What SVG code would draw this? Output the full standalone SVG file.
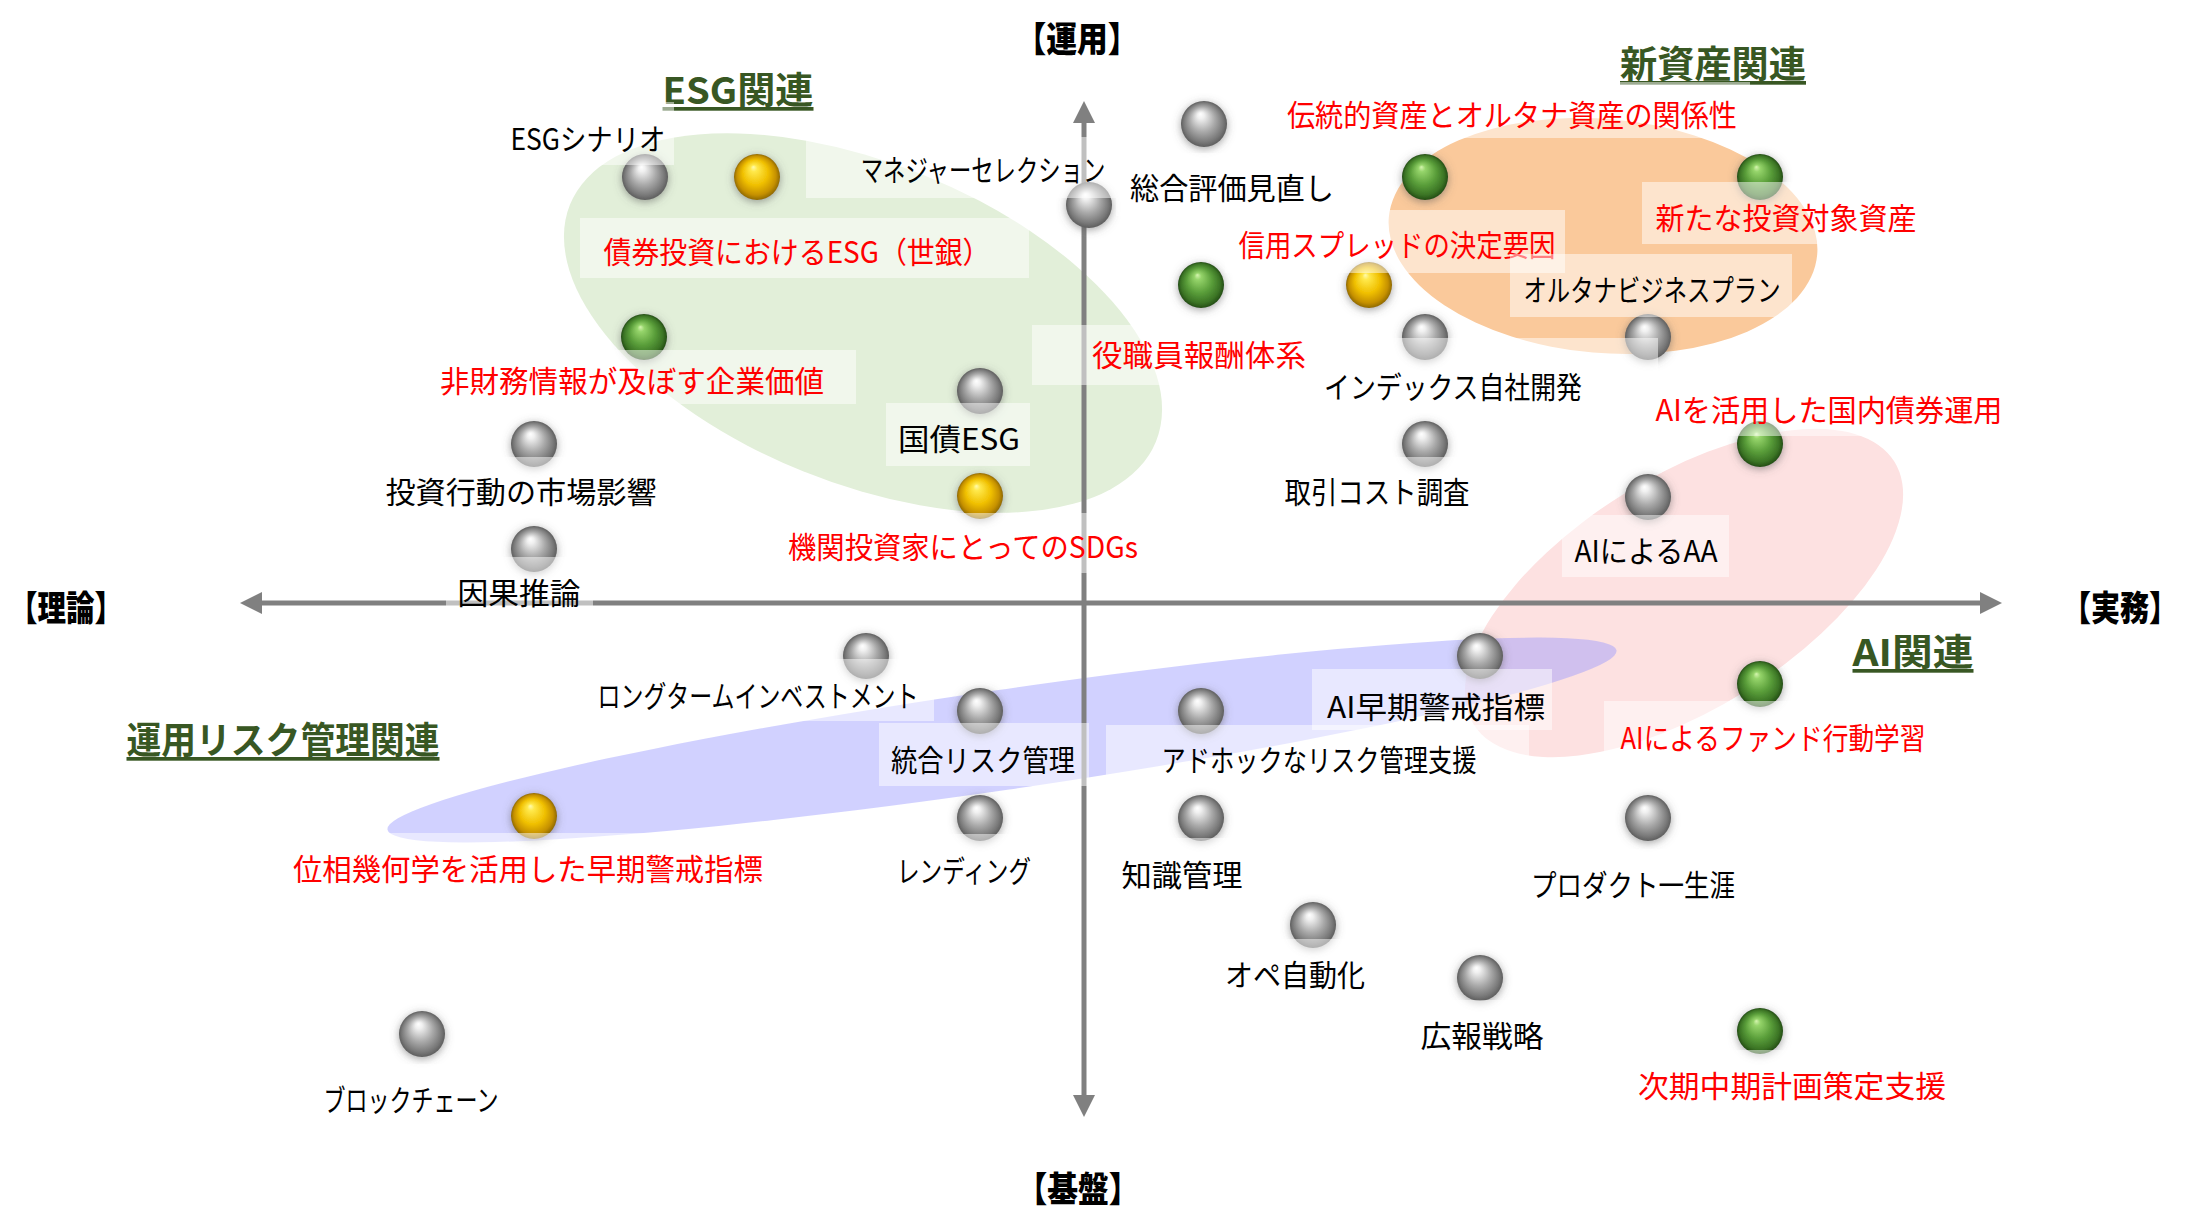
<svg xmlns="http://www.w3.org/2000/svg" xmlns:xlink="http://www.w3.org/1999/xlink" width="2190" height="1209" viewBox="0 0 2190 1209">
<defs>
<radialGradient id="gGray" cx="0.5" cy="0.5" r="0.5" fx="0.42" fy="0.28">
<stop offset="0" stop-color="#ffffff"/><stop offset="0.15" stop-color="#f0f0f0"/><stop offset="0.55" stop-color="#a9a9a9"/><stop offset="0.85" stop-color="#7a7a7a"/><stop offset="1" stop-color="#5e5e5e"/>
</radialGradient>
<radialGradient id="gYellow" cx="0.5" cy="0.5" r="0.5" fx="0.42" fy="0.28">
<stop offset="0" stop-color="#fffbb0"/><stop offset="0.15" stop-color="#ffe84a"/><stop offset="0.55" stop-color="#f0c000"/><stop offset="0.85" stop-color="#c59000"/><stop offset="1" stop-color="#8f6a00"/>
</radialGradient>
<radialGradient id="gGreen" cx="0.5" cy="0.5" r="0.5" fx="0.42" fy="0.28">
<stop offset="0" stop-color="#d6f5b0"/><stop offset="0.15" stop-color="#95d46a"/><stop offset="0.55" stop-color="#5a9e3a"/><stop offset="0.85" stop-color="#3b7425"/><stop offset="1" stop-color="#244d14"/>
</radialGradient>
<filter id="halo" x="-50%" y="-50%" width="200%" height="200%">
<feDropShadow dx="0" dy="2" stdDeviation="4" flood-color="#555555" flood-opacity="0.55"/>
</filter>
<marker id="arr" viewBox="0 0 22 22" refX="2" refY="11" markerWidth="22" markerHeight="22" markerUnits="userSpaceOnUse" orient="auto-start-reverse">
<path d="M0,0 L22,11 L0,22 z" fill="#808080"/>
</marker>
</defs>
<style>
.lbl{font-family:"Noto Sans CJK JP","Noto Sans",sans-serif;font-size:30px;text-anchor:middle;dominant-baseline:central}
.blk{fill:#000000}
.red{fill:#ff0000}
.box{fill:#ffffff;fill-opacity:0.5}
.sg{fill:url(#gGray);filter:url(#halo)}
.sy{fill:url(#gYellow);filter:url(#halo)}
.sn{fill:url(#gGreen);filter:url(#halo)}
.ttl{font-family:"Noto Sans CJK JP","Noto Sans",sans-serif;font-size:37px;font-weight:bold;fill:#385723;text-anchor:middle;dominant-baseline:central;text-decoration:underline}
.axl{font-family:"Noto Sans CJK JP","Noto Sans",sans-serif;font-size:35px;font-weight:900;fill:#000000;text-anchor:middle;dominant-baseline:central}
.axis{stroke:#808080;stroke-width:5;fill:none;marker-start:url(#arr);marker-end:url(#arr)}
</style>
<rect width="2190" height="1209" fill="#ffffff"/>

<g id="regions">
<ellipse cx="863" cy="323" rx="316" ry="160" transform="rotate(22 863 323)" fill="#e2efd9"/>
<ellipse cx="1603" cy="236" rx="215" ry="117" transform="rotate(5 1603 236)" fill="#fac99b"/>
<ellipse cx="1684" cy="593" rx="248" ry="116" transform="rotate(-32 1684 593)" fill="#fde1e1"/>
<ellipse cx="1002" cy="740" rx="621" ry="50" transform="rotate(-8.3 1002 740)" fill="#9999ff" fill-opacity="0.45"/>
</g>

<g id="connectors">
<line class="axis" x1="260" y1="603" x2="1982" y2="603"/>
<line class="axis" x1="1084" y1="1097" x2="1084" y2="121"/>
</g>

<g id="axis-labels">
<text class="axl" x="1077" y="36" textLength="123" lengthAdjust="spacingAndGlyphs">【運用】</text>
<text class="axl" x="1078" y="1186" textLength="123" lengthAdjust="spacingAndGlyphs">【基盤】</text>
<text class="axl" x="66" y="605" textLength="114" lengthAdjust="spacingAndGlyphs">【理論】</text>
<text class="axl" transform="translate(2120 606) scale(0.83 1)" x="0" y="0">【実務】</text>
</g>

<g id="group-titles">
<text class="ttl" x="738" y="88" textLength="151" lengthAdjust="spacingAndGlyphs">ESG関連</text>
<text class="ttl" x="1713" y="62" textLength="186" lengthAdjust="spacingAndGlyphs">新資産関連</text>
<text class="ttl" x="283" y="738" textLength="313" lengthAdjust="spacingAndGlyphs">運用リスク管理関連</text>
<text class="ttl" x="1913" y="650" textLength="121" lengthAdjust="spacingAndGlyphs">AI関連</text>
</g>

<g id="node-esg-scenario"><circle class="sg" cx="645" cy="177" r="23"/><rect class="box" x="496" y="102" width="178" height="63"/><text class="lbl blk" x="588" y="137" textLength="155" lengthAdjust="spacingAndGlyphs">ESGシナリオ</text></g>
<g id="node-bond-esg"><circle class="sy" cx="757" cy="177" r="23"/><rect class="box" x="580" y="218" width="449" height="60"/><text class="lbl red" x="797" y="250" textLength="387" lengthAdjust="spacingAndGlyphs">債券投資におけるESG（世銀）</text></g>
<g id="node-manager-selection"><circle class="sg" cx="1089" cy="205" r="23"/><rect class="box" x="806" y="137" width="310" height="61"/><text class="lbl blk" transform="translate(983 168) scale(0.745 1)" x="0" y="0">マネジャーセレクション</text></g>
<g id="node-overall-review"><circle class="sg" cx="1204" cy="124" r="23"/><rect class="box" x="1116" y="153" width="228" height="63"/><text class="lbl blk" x="1232" y="186" textLength="204" lengthAdjust="spacingAndGlyphs">総合評価見直し</text></g>
<g id="node-trad-alt"><circle class="sn" cx="1425" cy="177" r="23"/><rect class="box" x="1275" y="82" width="475" height="56"/><text class="lbl red" x="1512" y="113" textLength="450" lengthAdjust="spacingAndGlyphs">伝統的資産とオルタナ資産の関係性</text></g>
<g id="node-new-asset"><circle class="sn" cx="1760" cy="177" r="23"/><rect class="box" x="1642" y="182" width="293" height="62"/><text class="lbl red" x="1786" y="216" textLength="261" lengthAdjust="spacingAndGlyphs">新たな投資対象資産</text></g>
<g id="node-compensation"><circle class="sn" cx="1201" cy="285" r="23"/><rect class="box" x="1032" y="325" width="290" height="60"/><text class="lbl red" x="1199" y="353" textLength="214" lengthAdjust="spacingAndGlyphs">役職員報酬体系</text></g>
<g id="node-credit-spread"><circle class="sy" cx="1369" cy="285" r="23"/><rect class="box" x="1225" y="210" width="340" height="63"/><text class="lbl red" x="1397" y="243" textLength="317" lengthAdjust="spacingAndGlyphs">信用スプレッドの決定要因</text></g>
<g id="node-nonfinancial"><circle class="sn" cx="644" cy="337" r="23"/><rect class="box" x="420" y="350" width="436" height="54"/><text class="lbl red" x="632" y="379" textLength="384" lengthAdjust="spacingAndGlyphs">非財務情報が及ぼす企業価値</text></g>
<g id="node-alt-plan"><circle class="sg" cx="1648" cy="337" r="23"/><rect class="box" x="1510" y="254" width="282" height="63"/><text class="lbl blk" x="1652" y="288" textLength="257" lengthAdjust="spacingAndGlyphs">オルタナビジネスプラン</text></g>
<g id="node-index"><circle class="sg" cx="1425" cy="337" r="23"/><rect class="box" x="1312" y="338" width="346" height="78"/><text class="lbl blk" x="1453" y="385" textLength="258" lengthAdjust="spacingAndGlyphs">インデックス自社開発</text></g>
<g id="node-jgb-esg"><circle class="sg" cx="980" cy="391" r="23"/><rect class="box" x="886" y="403" width="144" height="63"/><text class="lbl blk" x="959" y="437" textLength="122" lengthAdjust="spacingAndGlyphs">国債ESG</text></g>
<g id="node-tcost"><circle class="sg" cx="1425" cy="444" r="23"/><rect class="box" x="1272" y="457" width="210" height="62"/><text class="lbl blk" x="1377" y="490" textLength="185" lengthAdjust="spacingAndGlyphs">取引コスト調査</text></g>
<g id="node-ai-bond"><circle class="sn" cx="1760" cy="444" r="23"/><rect class="box" x="1640" y="375" width="380" height="61"/><text class="lbl red" x="1829" y="408" textLength="347" lengthAdjust="spacingAndGlyphs">AIを活用した国内債券運用</text></g>
<g id="node-market-impact"><circle class="sg" cx="534" cy="444" r="23"/><rect class="box" x="373" y="457" width="296" height="62"/><text class="lbl blk" x="521" y="490" textLength="271" lengthAdjust="spacingAndGlyphs">投資行動の市場影響</text></g>
<g id="node-sdgs"><circle class="sy" cx="980" cy="496" r="23"/><rect class="box" x="775" y="513" width="376" height="60"/><text class="lbl red" x="963" y="545" textLength="350" lengthAdjust="spacingAndGlyphs">機関投資家にとってのSDGs</text></g>
<g id="node-ai-aa"><circle class="sg" cx="1648" cy="497" r="23"/><rect class="box" x="1562" y="515" width="167" height="62"/><text class="lbl blk" x="1646" y="549" textLength="143" lengthAdjust="spacingAndGlyphs">AIによるAA</text></g>
<g id="node-causal"><circle class="sg" cx="534" cy="549" r="23"/><rect class="box" x="446" y="557" width="147" height="62"/><text class="lbl blk" x="519" y="591" textLength="123" lengthAdjust="spacingAndGlyphs">因果推論</text></g>
<g id="node-longterm"><circle class="sg" cx="866" cy="656" r="23"/><rect class="box" x="584" y="659" width="350" height="62"/><text class="lbl blk" x="758" y="694" textLength="321" lengthAdjust="spacingAndGlyphs">ロングタームインベストメント</text></g>
<g id="node-ai-ew"><circle class="sg" cx="1480" cy="656" r="23"/><rect class="box" x="1312" y="669" width="240" height="61"/><text class="lbl blk" x="1436" y="705" textLength="218" lengthAdjust="spacingAndGlyphs">AI早期警戒指標</text></g>
<g id="node-ai-fund"><circle class="sn" cx="1760" cy="684" r="23"/><rect class="box" x="1604" y="701" width="340" height="63"/><text class="lbl red" x="1773" y="736" textLength="305" lengthAdjust="spacingAndGlyphs">AIによるファンド行動学習</text></g>
<g id="node-integrated-risk"><circle class="sg" cx="980" cy="711" r="23"/><rect class="box" x="879" y="723" width="210" height="63"/><text class="lbl blk" x="983" y="758" textLength="184" lengthAdjust="spacingAndGlyphs">統合リスク管理</text></g>
<g id="node-adhoc"><circle class="sg" cx="1201" cy="711" r="23"/><rect class="box" x="1106" y="725" width="423" height="63"/><text class="lbl blk" x="1319" y="758" textLength="315" lengthAdjust="spacingAndGlyphs">アドホックなリスク管理支援</text></g>
<g id="node-topology"><circle class="sy" cx="534" cy="816" r="23"/><rect class="box" x="281" y="833" width="494" height="62"/><text class="lbl red" x="528" y="867" textLength="470" lengthAdjust="spacingAndGlyphs">位相幾何学を活用した早期警戒指標</text></g>
<g id="node-lending"><circle class="sg" cx="980" cy="818" r="23"/><rect class="box" x="885" y="834" width="158" height="62"/><text class="lbl blk" x="964" y="869" textLength="134" lengthAdjust="spacingAndGlyphs">レンディング</text></g>
<g id="node-knowledge"><circle class="sg" cx="1201" cy="818" r="23"/><rect class="box" x="1110" y="838" width="145" height="62"/><text class="lbl blk" x="1182" y="873" textLength="121" lengthAdjust="spacingAndGlyphs">知識管理</text></g>
<g id="node-product"><circle class="sg" cx="1648" cy="818" r="23"/><rect class="box" x="1519" y="849" width="228" height="62"/><text class="lbl blk" x="1633" y="883" textLength="204" lengthAdjust="spacingAndGlyphs">プロダクト一生涯</text></g>
<g id="node-ops"><circle class="sg" cx="1313" cy="925" r="23"/><rect class="box" x="1213" y="939" width="164" height="62"/><text class="lbl blk" x="1295" y="973" textLength="140" lengthAdjust="spacingAndGlyphs">オペ自動化</text></g>
<g id="node-pr"><circle class="sg" cx="1480" cy="978" r="23"/><rect class="box" x="1408" y="1000" width="148" height="62"/><text class="lbl blk" x="1482" y="1034" textLength="123" lengthAdjust="spacingAndGlyphs">広報戦略</text></g>
<g id="node-blockchain"><circle class="sg" cx="422" cy="1034" r="23"/><rect class="box" x="311" y="1064" width="200" height="62"/><text class="lbl blk" x="411" y="1098" textLength="175" lengthAdjust="spacingAndGlyphs">ブロックチェーン</text></g>
<g id="node-midplan"><circle class="sn" cx="1760" cy="1031" r="23"/><rect class="box" x="1626" y="1050" width="332" height="62"/><text class="lbl red" x="1792" y="1084" textLength="308" lengthAdjust="spacingAndGlyphs">次期中期計画策定支援</text></g>
</svg>
